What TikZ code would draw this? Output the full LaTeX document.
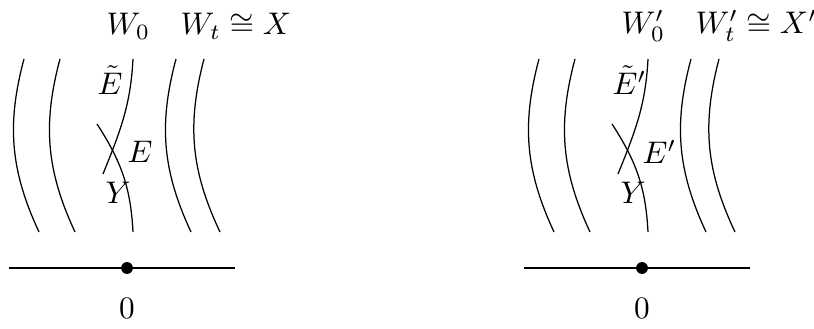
\documentclass[tikz,border=0pt]{standalone}
\usepackage{amssymb}
\begin{document}
\begin{tikzpicture}[x=0.32pt,y=0.32pt,
    punto/.style={circle,fill,inner sep=0pt,minimum size=3.8pt},
    etichetta/.style={anchor=west,inner sep=0pt}]
    \useasboundingbox (0,0) rectangle (814,328);

    \foreach \dx/\p/\n in {0/{}/a,515/{'}/b}{
    \begin{scope}[shift={(\dx,0)}]
        %fibre
        \draw (24,269) to [bend right=20] (39,96);
        \draw (60,269) to [bend right=20] (75,96);
        \draw (176,269) to [bend right=20] (191,96);
        \draw (204,269) to [bend right=20] (220,96);

        %fibra centrale
        \draw (133,269) to [out=-93, in=68] (103,154);
        \draw (97,204) to [out=-57, in=93] (133,96);

        %retta e punto
        \coordinate (sx\n) at (9,60);
        \coordinate (dx\n) at (235,60);
        \draw (sx\n)--(dx\n);
        \node[punto] (o\n) at (127,60) {};
        \node[inner sep=0pt] (zero\n) at (127,20) {$0$};

        %label
        \node[etichetta] (W\n) at (106,302) {$W_0\p$};
        \node[etichetta] (Wt\n) at (180,302) {$W_t\p\cong X\p$};
        \node[etichetta] (Et\n) at (97,248) {$\tilde{E}\p$};
        \node[etichetta] (E\n) at (127,176) {$E\p$};
        \node[etichetta] (Y\n) at (105,135) {$Y$};
    \end{scope}
    }
\end{tikzpicture}
\end{document}
